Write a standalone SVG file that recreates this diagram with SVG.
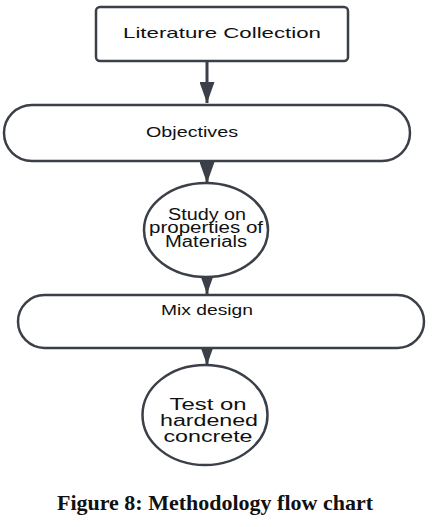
<svg xmlns="http://www.w3.org/2000/svg" width="435" height="527" viewBox="0 0 435 527">
<style>
.n{fill:#fff;stroke:#3a3f48;stroke-width:2.5}
.t{font-family:"Liberation Sans",Arial,sans-serif;font-size:16px;fill:#111;text-anchor:middle}
.c{stroke:#3a3f48;stroke-width:3;fill:none}
.cap{font-family:"Liberation Serif","Times New Roman",serif;font-weight:bold;font-size:22px;fill:#111;text-anchor:middle}
</style>
<defs>
<marker id="ah" markerWidth="7" markerHeight="5" refX="7" refY="2.5" orient="auto" markerUnits="strokeWidth">
<path d="M0,0 L7,2.5 L0,5 Z" fill="#3a3f48"/>
</marker>
</defs>
<rect width="435" height="527" fill="#fff"/>
<g id="connectors">
<line class="c" x1="207" y1="62" x2="207" y2="103" marker-end="url(#ah)"/>
<line class="c" x1="207" y1="161" x2="207" y2="183" marker-end="url(#ah)"/>
<line class="c" x1="207" y1="277" x2="207" y2="294" marker-end="url(#ah)"/>
<line class="c" x1="207" y1="348" x2="207" y2="365" marker-end="url(#ah)"/>
</g>
<g id="literature">
<rect class="n" x="96" y="7" width="252" height="54" rx="4"/>
<text class="t" x="222" y="38" style="font-size:15px" textLength="198" lengthAdjust="spacingAndGlyphs">Literature Collection</text>
</g>
<g id="objectives">
<rect class="n" x="4" y="105" width="406" height="56" rx="28"/>
<text class="t" x="192" y="137" style="font-size:14px" textLength="92" lengthAdjust="spacingAndGlyphs">Objectives</text>
</g>
<g id="study">
<ellipse class="n" cx="206" cy="230" rx="62" ry="47"/>
<text class="t" x="207" y="220" textLength="78" lengthAdjust="spacingAndGlyphs">Study on</text>
<text class="t" x="206" y="233" textLength="114" lengthAdjust="spacingAndGlyphs">properties of</text>
<text class="t" x="206" y="247" textLength="82" lengthAdjust="spacingAndGlyphs">Materials</text>
</g>
<g id="mix">
<rect class="n" x="18" y="295" width="406" height="53" rx="26.5"/>
<text class="t" x="207" y="315" style="font-size:15px" textLength="92" lengthAdjust="spacingAndGlyphs">Mix design</text>
</g>
<g id="test">
<ellipse class="n" cx="205" cy="415" rx="62.5" ry="50"/>
<text class="t" x="208" y="410" textLength="77" lengthAdjust="spacingAndGlyphs">Test on</text>
<text class="t" x="209" y="426" textLength="98" lengthAdjust="spacingAndGlyphs">hardened</text>
<text class="t" x="208" y="442" textLength="89" lengthAdjust="spacingAndGlyphs">concrete</text>
</g>
<text class="cap" x="215" y="510">Figure 8: Methodology flow chart</text>
</svg>
